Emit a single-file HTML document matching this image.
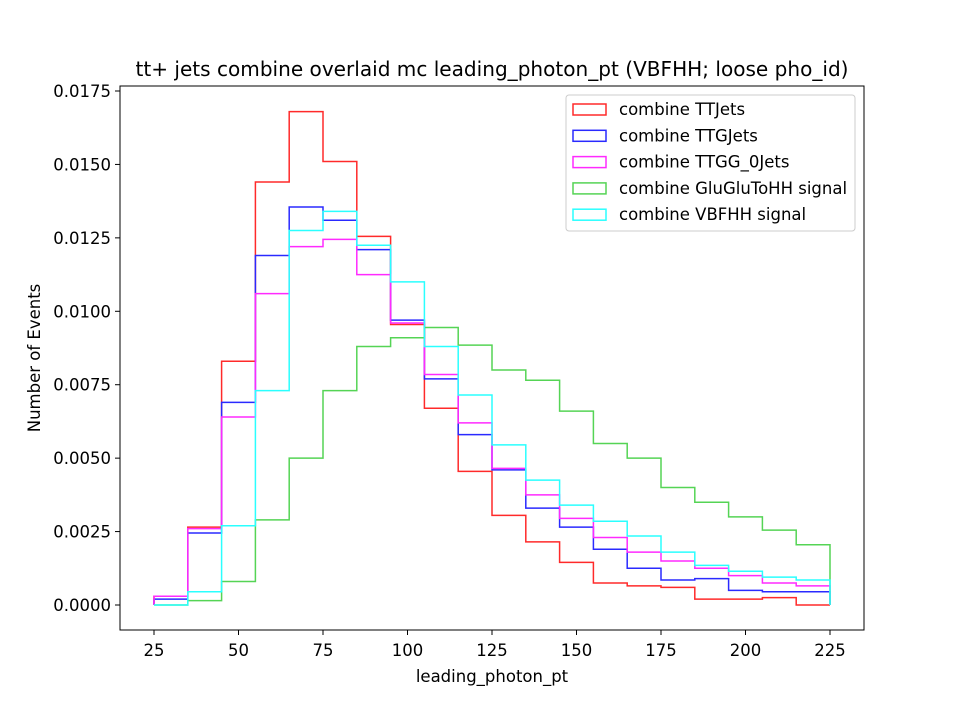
<!DOCTYPE html>
<html><head><meta charset="utf-8"><style>body{margin:0;background:#fff}svg{display:block;font-family:"DejaVu Sans","Liberation Sans",sans-serif}</style></head>
<body>
<svg id="chart" width="960" height="720">
<rect width="960" height="720" fill="#fff"/>
<text x="492" y="76" font-size="20" text-anchor="middle" textLength="713" lengthAdjust="spacingAndGlyphs">tt+ jets combine overlaid mc leading_photon_pt (VBFHH; loose pho_id)</text>
<g id="series"></g>
<rect x="120" y="86" width="744" height="544" fill="none" stroke="#000" stroke-width="1"/>
<g id="axes" font-size="16.5"></g>
<text x="492" y="682" font-size="16.5" text-anchor="middle">leading_photon_pt</text>
<text transform="translate(40,358) rotate(-90)" font-size="16.5" text-anchor="middle">Number of Events</text>
<g id="legend"></g>
</svg>
<script>
const binEdges = [25,35,45,55,65,75,85,95,105,115,125,135,145,155,165,175,185,195,205,215,225];
const seriesNames = ["combine TTJets","combine TTGJets","combine TTGG_0Jets","combine GluGluToHH signal","combine VBFHH signal"];
const ttjets = [0.0003,0.00265,0.0083,0.0144,0.0168,0.0151,0.01255,0.00955,0.0067,0.00455,0.00305,0.00215,0.00145,0.00075,0.00065,0.0006,0.0002,0.0002,0.00025,0.0];
const ttgjets = [0.0002,0.00245,0.0069,0.0119,0.01355,0.0131,0.0121,0.0097,0.0077,0.0058,0.0046,0.0033,0.00265,0.0019,0.00125,0.00085,0.0009,0.0005,0.00045,0.00045];
const ttgg0jets = [0.0003,0.0026,0.0064,0.0106,0.0122,0.01245,0.01125,0.0096,0.00785,0.0062,0.00465,0.00375,0.00295,0.0023,0.0018,0.0015,0.00125,0.001,0.00075,0.00065];
const gluglu = [0.0,0.00015,0.0008,0.0029,0.005,0.0073,0.0088,0.0091,0.00945,0.00885,0.008,0.00765,0.0066,0.0055,0.005,0.0040,0.0035,0.003,0.00255,0.00205];
const vbfhh = [0.0,0.00045,0.0027,0.0073,0.01275,0.0134,0.01225,0.011,0.0088,0.00715,0.00545,0.00425,0.0034,0.00285,0.00235,0.0018,0.00135,0.00115,0.00095,0.00085];
const xTicks = [25,50,75,100,125,150,175,200,225];
const yTicks = [0,0.0025,0.005,0.0075,0.01,0.0125,0.015,0.0175];
const yTickLabels = ["0.0000","0.0025","0.0050","0.0075","0.0100","0.0125","0.0150","0.0175"];

const colors = ["#ff2a2a","#2a2aff","#ff2aff","#55d455","#2affff"];
const NS = "http://www.w3.org/2000/svg";
const X = v => 154 + (v - 25) * 3.38;
const Y = v => 605 - v * 29371;

const sg = document.getElementById("series");
[ttjets,ttgjets,ttgg0jets,gluglu,vbfhh].forEach((vals, i) => {
  let pts = [[X(binEdges[0]), Y(0)]];
  vals.forEach((v, j) => { pts.push([X(binEdges[j]), Y(v)]); pts.push([X(binEdges[j+1]), Y(v)]); });
  pts.push([X(binEdges[binEdges.length-1]), Y(0)]);
  const p = document.createElementNS(NS, "polyline");
  p.setAttribute("points", pts.map(q => q.join(",")).join(" "));
  p.setAttribute("fill", "none");
  p.setAttribute("stroke", colors[i]);
  p.setAttribute("stroke-width", "1.5");
  
  
  sg.appendChild(p);
});

const ax = document.getElementById("axes");
xTicks.forEach(t => {
  const l = document.createElementNS(NS, "line");
  l.setAttribute("x1", X(t)); l.setAttribute("x2", X(t)); l.setAttribute("y1", 630); l.setAttribute("y2", 635);
  l.setAttribute("stroke", "#000");
  
  
  ax.appendChild(l);
  const tx = document.createElementNS(NS, "text");
  tx.setAttribute("x", X(t)); tx.setAttribute("y", 656); tx.setAttribute("text-anchor", "middle");
  tx.textContent = t;
  
  
  ax.appendChild(tx);
});
yTicks.forEach((t, i) => {
  const l = document.createElementNS(NS, "line");
  l.setAttribute("x1", 115); l.setAttribute("x2", 120); l.setAttribute("y1", Y(t)); l.setAttribute("y2", Y(t));
  l.setAttribute("stroke", "#000");
  
  
  ax.appendChild(l);
  const tx = document.createElementNS(NS, "text");
  tx.setAttribute("x", 111); tx.setAttribute("y", Y(t) + 6); tx.setAttribute("text-anchor", "end");
  tx.textContent = yTickLabels[i];
  
  
  ax.appendChild(tx);
});

const lg = document.getElementById("legend");
const box = document.createElementNS(NS, "rect");
box.setAttribute("x", 566); box.setAttribute("y", 95); box.setAttribute("width", 289); box.setAttribute("height", 136);
box.setAttribute("rx", 3); box.setAttribute("fill", "#fff"); box.setAttribute("fill-opacity", "0.8"); box.setAttribute("stroke", "#ccc");


lg.appendChild(box);
seriesNames.forEach((n, i) => {
  const cy = 109 + i * 26.3;
  const r = document.createElementNS(NS, "rect");
  r.setAttribute("x", 573); r.setAttribute("y", cy - 5); r.setAttribute("width", 33); r.setAttribute("height", 11);
  r.setAttribute("fill", "none"); r.setAttribute("stroke", colors[i]); r.setAttribute("stroke-width", "1.5");
  
  
  lg.appendChild(r);
  const t = document.createElementNS(NS, "text");
  t.setAttribute("x", 619); t.setAttribute("y", cy + 6); t.setAttribute("font-size", "16.5");
  t.textContent = n;
  
  
  lg.appendChild(t);
});
</script>
</body></html>
